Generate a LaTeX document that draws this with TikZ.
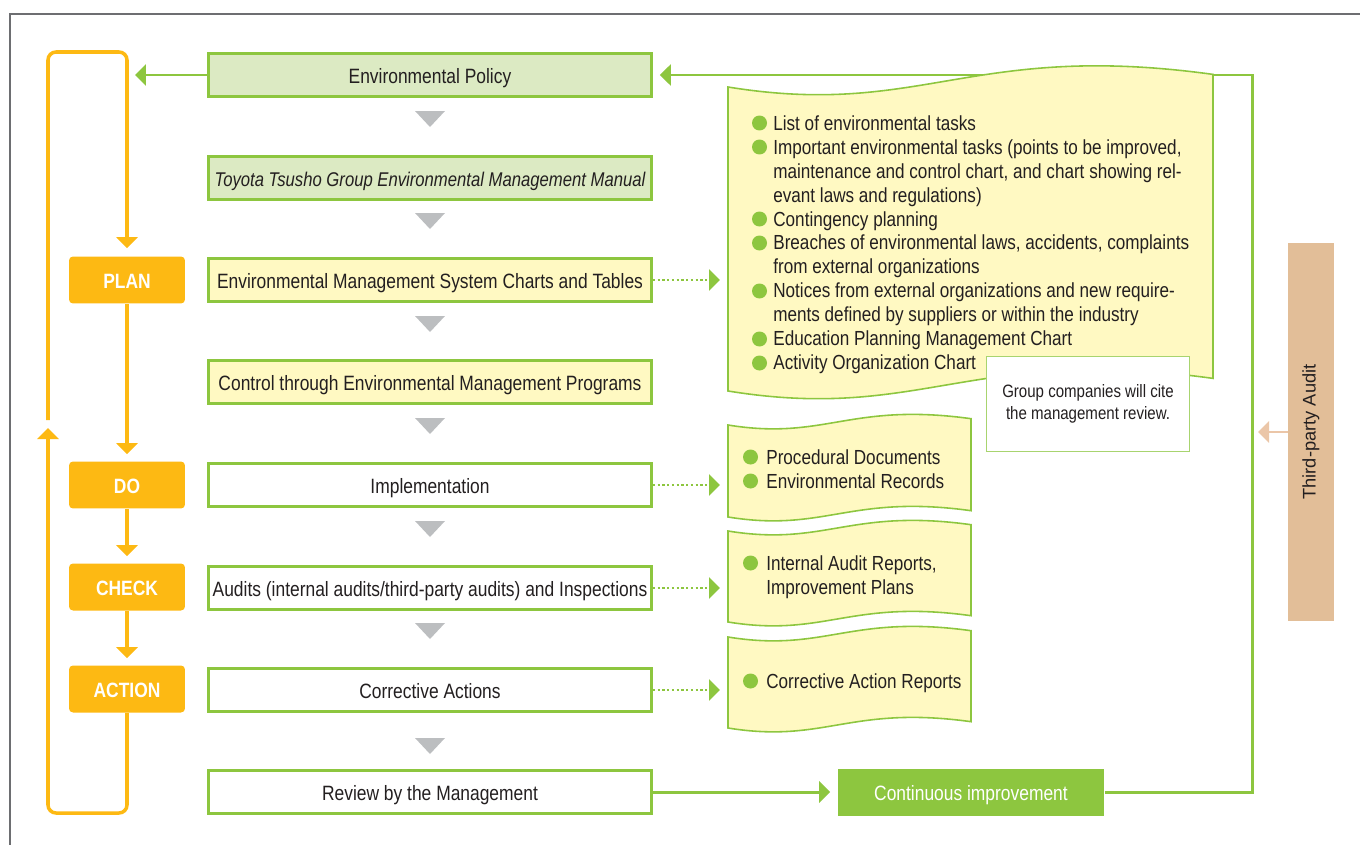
\documentclass[tikz,border=0pt]{standalone}
\usepackage{fontspec}
\setmainfont{Liberation Sans}[FakeStretch=0.84]
\newfontfamily\widesans{Liberation Sans}
\usetikzlibrary{arrows.meta}
\definecolor{leafgreen}{HTML}{8DC63F}
\definecolor{palegreen}{HTML}{DCEAC3}
\definecolor{paleyellow}{HTML}{FFF9C2}
\definecolor{pdcaorange}{HTML}{FDB913}
\definecolor{flowgray}{HTML}{BCBEC0}
\definecolor{audittan}{HTML}{E2BE98}
\definecolor{tanarrow}{HTML}{EBC6A8}
\definecolor{framegray}{HTML}{6D6E71}
\definecolor{inkdark}{HTML}{231F20}
\definecolor{notegreen}{HTML}{A8D46F}
\newcommand\wavedoc[4]{%
  \draw[docline] (#1,#3)
    .. controls ({#1+0.4*(#2-#1)},{#3+0.065*(#2-#1)}) and ({#1+0.5*(#2-#1)},{#3-0.095*(#2-#1)})
    .. (#2,{#3-0.026*(#2-#1)}) -- (#2,{#4-0.026*(#2-#1)})
    .. controls ({#1+0.5*(#2-#1)},{#4-0.095*(#2-#1)}) and ({#1+0.4*(#2-#1)},{#4+0.065*(#2-#1)})
    .. (#1,#4) -- cycle;}
\begin{document}
\begin{tikzpicture}[
  x=0.02cm, y=-0.02cm,
  >={Triangle[length=0.22cm,width=0.42cm]},
  every node/.style={font=\fontsize{11.8}{13.66}\selectfont, text=inkdark},
  flowbox/.style={
    draw=leafgreen,
    line width=1.6pt,
    minimum width=8.86cm,
    minimum height=0.86cm,
    text height=10.2pt,
    text depth=0pt,
    inner sep=1pt
  },
  policybox/.style={flowbox, fill=palegreen},
  planbox/.style={flowbox, fill=paleyellow},
  workbox/.style={flowbox, fill=white},
  pdca/.style={
    fill=pdcaorange,
    rounded corners=0.08cm,
    minimum width=2.32cm,
    minimum height=0.94cm,
    text height=10.2pt,
    text depth=0pt,
    text=white,
    font=\fontsize{11.8}{13.66}\selectfont\bfseries
  },
  pdcaarrow/.style={->, draw=pdcaorange, line width=2pt, shorten >=0.14cm},
  loopline/.style={draw=pdcaorange, line width=2pt, rounded corners=0.16cm},
  greenarrow/.style={->, draw=leafgreen, line width=1.7pt},
  dotarrow/.style={->, draw=leafgreen, line width=1.4pt, dash pattern=on 1.3pt off 1.4pt},
  docline/.style={draw=leafgreen, line width=0.9pt, fill=paleyellow},
  doctext/.style={anchor=base west, inner sep=0pt, font=\fontsize{11.6}{13.66}\selectfont},
  flowtri/.style={fill=flowgray},
  bulletdot/.style={fill=leafgreen}
]
\useasboundingbox (0,0) rectangle (1360,845);
\draw[framegray, line width=0.8pt] (10,845) -- (10,14) -- (1360,14);

\node[policybox] (policy) at (430,75) {Environmental Policy};
\node[policybox, font=\fontsize{11.3}{13.66}\selectfont\itshape] (manual) at (430,178) {Toyota Tsusho Group Environmental Management Manual};
\node[planbox] (charts) at (430,280) {Environmental Management System Charts and Tables};
\node[planbox] (programs) at (430,382) {Control through Environmental Management Programs};
\node[workbox] (implement) at (430,485) {Implementation};
\node[workbox] (audits) at (430,588) {Audits (internal audits/third-party audits) and Inspections};
\node[workbox] (corrective) at (430,690) {Corrective Actions};
\node[workbox] (review) at (430,792) {Review by the Management};

\fill[flowtri] (415,111) -- (445,111) -- (430,127) -- cycle;
\fill[flowtri] (415,213) -- (445,213) -- (430,229) -- cycle;
\fill[flowtri] (415,316) -- (445,316) -- (430,332) -- cycle;
\fill[flowtri] (415,418) -- (445,418) -- (430,434) -- cycle;
\fill[flowtri] (415,521) -- (445,521) -- (430,537) -- cycle;
\fill[flowtri] (415,623) -- (445,623) -- (430,639) -- cycle;
\fill[flowtri] (415,738) -- (445,738) -- (430,754) -- cycle;

\node[pdca] (plan) at (127,280) {PLAN};
\node[pdca] (do) at (127,485) {DO};
\node[pdca] (check) at (127,587) {CHECK};
\node[pdca] (action) at (127,689) {ACTION};
\draw[pdcaarrow] (plan) -- (do);
\draw[pdcaarrow] (do) -- (check);
\draw[pdcaarrow] (check) -- (action);

\coordinate (loopbottom) at (48,813);
\coordinate (loopup) at (48,428);
\coordinate (loopgap) at (48,420);
\coordinate (looptop) at (127,52);
\draw[loopline, ->] (action.south) |- (loopbottom) -- (loopup);
\draw[loopline, ->, shorten >=0.16cm] (loopgap) |- (looptop) -- (plan.north);

\node[fill=leafgreen, text=white, minimum width=5.34cm, minimum height=0.94cm,
  text height=10.2pt, text depth=0pt] (improve) at (971,792) {Continuous improvement};
\coordinate (policytip) at (135,75);
\draw[greenarrow] (policy.west) -- (policytip);
\draw[greenarrow, shorten >=0.14cm] (review) -- (improve);
\draw[greenarrow, shorten >=0.14cm] (improve.east) -| (1252,75) -- (policy.east);

\wavedoc{728}{1213}{87}{391}
\wavedoc{728}{971}{425}{517}
\wavedoc{728}{971}{531}{622}
\wavedoc{728}{971}{637}{728}

\coordinate (tasksin) at (720,280);
\coordinate (recordsin) at (720,485);
\coordinate (reportsin) at (720,588);
\coordinate (actionsin) at (720,690);
\draw[dotarrow] (charts.east) -- (tasksin);
\draw[dotarrow] (implement.east) -- (recordsin);
\draw[dotarrow] (audits.east) -- (reportsin);
\draw[dotarrow] (corrective.east) -- (actionsin);

\fill[bulletdot] (759.5,123) circle (0.15cm);
\fill[bulletdot] (759.5,147) circle (0.15cm);
\fill[bulletdot] (759.5,219) circle (0.15cm);
\fill[bulletdot] (759.5,243) circle (0.15cm);
\fill[bulletdot] (759.5,291) circle (0.15cm);
\fill[bulletdot] (759.5,339) circle (0.15cm);
\fill[bulletdot] (759.5,363) circle (0.15cm);
\node[doctext] (tasks) at (773,130) {\begin{tabular}[t]{@{}l@{}}
List of environmental tasks\\
Important environmental tasks (points to be improved,\\
maintenance and control chart, and chart showing rel-\\
evant laws and regulations)\\
Contingency planning\\
Breaches of environmental laws, accidents, complaints\\
from external organizations\\
Notices from external organizations and new require-\\
ments defined by suppliers or within the industry\\
Education Planning Management Chart\\
Activity Organization Chart
\end{tabular}};

\fill[bulletdot] (750.5,457) circle (0.15cm);
\fill[bulletdot] (750.5,481) circle (0.15cm);
\node[doctext] (records) at (766,464) {\begin{tabular}[t]{@{}l@{}}
Procedural Documents\\
Environmental Records
\end{tabular}};
\fill[bulletdot] (750.5,563) circle (0.15cm);
\node[doctext] (reports) at (766,570) {\begin{tabular}[t]{@{}l@{}}
Internal Audit Reports,\\
Improvement Plans
\end{tabular}};
\fill[bulletdot] (750.5,681) circle (0.15cm);
\node[doctext] (actions) at (766,688) {Corrective Action Reports};

\node[draw=notegreen, line width=1pt, fill=white, align=center, minimum width=4.06cm, minimum height=1.9cm,
  font=\fontsize{10.2}{12.6}\selectfont] (note) at (1088,404) {Group companies will cite\\the management review.};

\node[fill=audittan, rotate=90, minimum width=7.56cm, minimum height=0.92cm,
  font=\widesans\fontsize{10.4}{12}\selectfont] (thirdparty) at (1311,432) {Third-party Audit};
\coordinate (auditin) at (1258,432);
\draw[->, draw=tanarrow, line width=1.6pt] (thirdparty.north) -- (auditin);
\end{tikzpicture}
\end{document}
